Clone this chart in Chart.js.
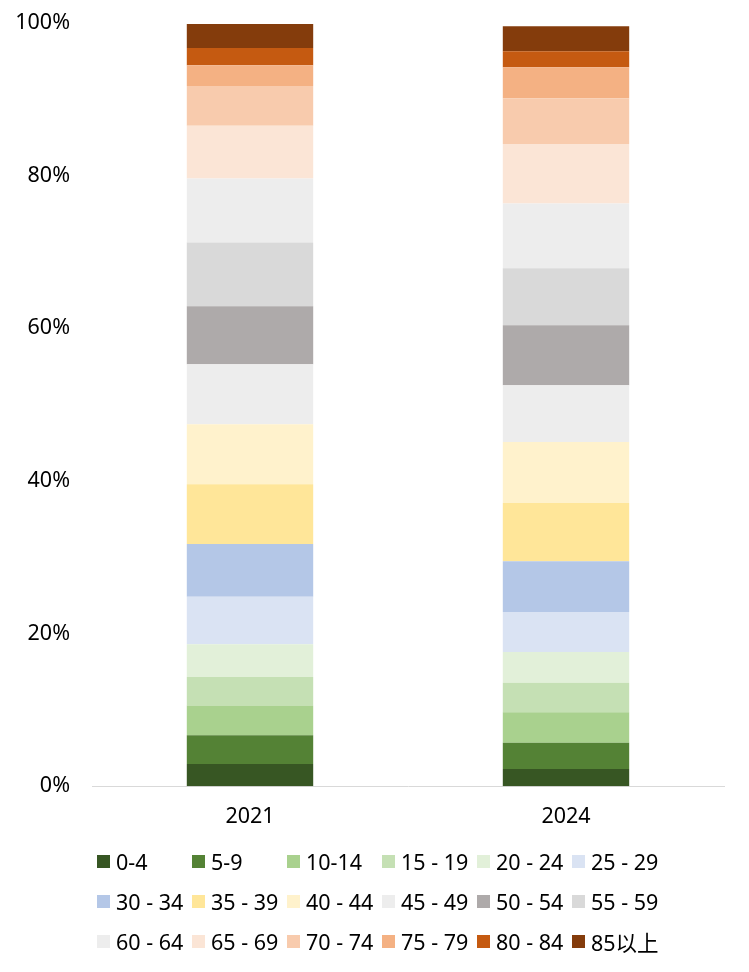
<!DOCTYPE html>
<html>
<head>
<meta charset="utf-8">
<script src="https://cdn.jsdelivr.net/npm/chart.js@4.4.0/dist/chart.umd.min.js"></script>
<style>
  html, body { margin: 0; padding: 0; background: #fff; }
  #wrap { position: relative; width: 749px; height: 972px; overflow: hidden; }
  #chartBox { position: absolute; left: 0; top: 0; width: 749px; height: 850px; }
  #legend {
    position: absolute; left: 97px; top: 841px;
    display: grid; grid-template-columns: repeat(6, 95px); grid-auto-rows: 40px;
    font-family: "Noto Sans", "Noto Sans CJK SC", sans-serif; font-size: 21.5px; color: #000;
  }
  .item { display: flex; align-items: center; white-space: nowrap; }
  .box { width: 13px; height: 13px; margin-right: 6px; flex: none; }
</style>
</head>
<body>
<div id="wrap">
  <div id="chartBox"><canvas id="chart"></canvas></div>
  <div id="legend"></div>
</div>
<script>
// Population share by age group, in percent
const YEARS = ['2021', '2024'];

const AGE_GROUPS = [
  '0-4', '5-9', '10-14', '15 - 19', '20 - 24', '25 - 29',
  '30 - 34', '35 - 39', '40 - 44', '45 - 49', '50 - 54', '55 - 59',
  '60 - 64', '65 - 69', '70 - 74', '75 - 79', '80 - 84', '85以上',
];

const SHARE_2021 = [
  2.92, 3.76, 3.89, 3.75, 4.29, 6.20,
  6.91, 7.86, 7.86, 7.86, 7.60, 8.35,
  8.39, 6.89, 5.20, 2.75, 2.23, 3.15,
];

const SHARE_2024 = [
  2.27, 3.41, 4.02, 3.84, 4.06, 5.24,
  6.64, 7.64, 7.99, 7.43, 7.86, 7.47,
  8.48, 7.81, 5.99, 4.06, 2.10, 3.28,
];

const Y_TICKS = [0, 20, 40, 60, 80, 100];

const AGE_COLORS = [
  '#375623', '#548235', '#A9D18E', '#C5E0B4', '#E2F0D9', '#DAE3F3',
  '#B4C7E7', '#FFE699', '#FFF2CC', '#EDEDED', '#AEAAAA', '#D9D9D9',
  '#EDEDED', '#FBE5D6', '#F8CBAD', '#F4B183', '#C55A11', '#843C0C',
];

const FONT = '"Noto Sans", "Noto Sans CJK SC", sans-serif';

const datasets = AGE_GROUPS.map((g, i) => ({
  label: g,
  data: [SHARE_2021[i], SHARE_2024[i]],
  backgroundColor: AGE_COLORS[i],
  borderWidth: 0,
  barPercentage: 1,
  categoryPercentage: 0.4,
}));

const chart = new Chart(document.getElementById('chart'), {
  type: 'bar',
  data: { labels: YEARS, datasets: datasets },
  options: {
    responsive: true,
    maintainAspectRatio: false,
    animation: false,
    layout: { padding: { top: 23, right: 25, bottom: 2, left: 0 } },
    plugins: {
      legend: { display: false },
      tooltip: { enabled: false },
    },
    scales: {
      x: {
        stacked: true,
        grid: { display: false, drawTicks: false },
        border: { color: '#D9D9D9', width: 1 },
        ticks: { color: '#000', font: { family: FONT, size: 21.5 }, padding: 18 },
      },
      y: {
        stacked: true,
        min: 0,
        max: 100,
        afterBuildTicks: (s) => { s.ticks = Y_TICKS.map(v => ({ value: v })); },
        afterFit: (s) => { s.width = 92; },
        // invisible tick marks push the labels left without adding vertical padding
        grid: { display: false, drawTicks: true, tickLength: 22, tickColor: 'rgba(0,0,0,0)' },
        border: { display: false },
        ticks: {
          color: '#000',
          font: { family: FONT, size: 21.5 },
          padding: 0,
          callback: (v) => v + '%',
        },
      },
    },
  },
});

// HTML legend in a fixed 6-column grid, built from the chart's datasets
const legendEl = document.getElementById('legend');
chart.data.datasets.forEach((ds) => {
  const item = document.createElement('div');
  item.className = 'item';
  const box = document.createElement('span');
  box.className = 'box';
  box.style.background = ds.backgroundColor;
  const txt = document.createElement('span');
  txt.textContent = ds.label;
  item.appendChild(box);
  item.appendChild(txt);
  legendEl.appendChild(item);
});
</script>
</body>
</html>
